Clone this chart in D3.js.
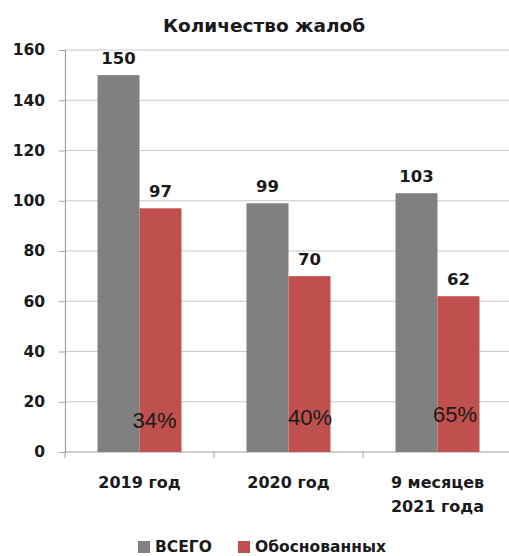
<!DOCTYPE html>
<html><head><meta charset="utf-8">
<script src="https://cdn.jsdelivr.net/npm/d3@7"></script>
<style>body{margin:0;background:#fff}svg{display:block}</style>
</head><body>
<script>
const categories = [["2019 год"], ["2020 год"], ["9 месяцев", "2021 года"]];
const seriesNames = ["ВСЕГО", "Обоснованных"];
const totalValues = [150, 99, 103];
const justifiedValues = [97, 70, 62];
const percentLabels = ["34%", "40%", "65%"];
const yTicks = [0, 20, 40, 60, 80, 100, 120, 140, 160];
const colors = ["#808080", "#c0504d"];

const W = 509, H = 556;
const svg = d3.select("body").append("svg").attr("width", W).attr("height", H);
const bold = "'DejaVu Sans', sans-serif";
const reg = "'Liberation Sans', Arial, sans-serif";

const x = d3.scaleBand().domain(d3.range(categories.length)).range([65, 512]);
const y = d3.scaleLinear().domain([0, 160]).range([452, 50]);
const barW = 42;

// gridlines
svg.append("g").selectAll("line").data(yTicks.filter(t => t > 0)).join("line")
  .attr("x1", 65).attr("x2", W).attr("y1", d => y(d)).attr("y2", d => y(d))
  .attr("stroke", "#c8c8c8").attr("stroke-width", 1.2);

// y axis
const yAxis = svg.append("g").attr("transform", "translate(65,0)")
  .call(d3.axisLeft(y).tickValues(yTicks).tickSize(6).tickPadding(5));
yAxis.select(".domain").attr("stroke", "#a0a0a0").attr("stroke-width", 1.2);
yAxis.selectAll(".tick line").attr("stroke", "#a0a0a0");
yAxis.selectAll("text").attr("font-family", bold).attr("font-size", 15.5).attr("font-weight", "bold").attr("fill", "#1a1a1a").attr("dx", -9);

// x axis
const xAxis = svg.append("g").attr("transform", "translate(0,452)");
xAxis.append("line").attr("x1", 65).attr("x2", W).attr("stroke", "#a0a0a0").attr("stroke-width", 1.2);
xAxis.selectAll(".tk").data(d3.range(categories.length + 1)).join("line")
  .attr("x1", d => 65 + d * x.step()).attr("x2", d => 65 + d * x.step())
  .attr("y1", 0).attr("y2", 6).attr("stroke", "#a0a0a0");

const cx = i => x(i) + x.bandwidth() / 2;

// bars
const data = [totalValues, justifiedValues];
data.forEach((vals, s) => {
  svg.append("g").selectAll("rect").data(vals).join("rect")
    .attr("x", (d, i) => cx(i) - barW + s * barW)
    .attr("width", barW)
    .attr("y", d => y(d)).attr("height", d => y(0) - y(d))
    .attr("fill", colors[s]);
  svg.append("g").selectAll("text").data(vals).join("text")
    .attr("x", (d, i) => cx(i) - barW / 2 + s * barW)
    .attr("y", d => y(d) - 11.5)
    .attr("text-anchor", "middle")
    .attr("font-family", bold).attr("font-size", 16.5).attr("font-weight", "bold").attr("fill", "#1a1a1a")
    .text(d => d);
});

// percent labels
const pctOffsets = [[15, 428], [21.5, 425], [17.5, 422]];
svg.append("g").selectAll("text").data(percentLabels).join("text")
  .attr("x", (d, i) => cx(i) + pctOffsets[i][0])
  .attr("y", (d, i) => pctOffsets[i][1])
  .attr("text-anchor", "middle")
  .attr("font-family", reg).attr("font-size", 22).attr("fill", "#1a1a1a")
  .text(d => d);

// category labels
categories.forEach((lines, i) => {
  lines.forEach((t, j) => {
    svg.append("text").attr("x", cx(i)).attr("y", 488 + j * 24)
      .attr("text-anchor", "middle")
      .attr("font-family", bold).attr("font-size", 16).attr("font-weight", "bold").attr("fill", "#1a1a1a")
      .text(t);
  });
});

// title
svg.append("text").attr("x", 264).attr("y", 32).attr("text-anchor", "middle")
  .attr("font-family", bold).attr("font-size", 18.5).attr("font-weight", "bold").attr("fill", "#1a1a1a")
  .text("Количество жалоб");

// legend
const legX = [138, 238];
seriesNames.forEach((n, i) => {
  svg.append("rect").attr("x", legX[i]).attr("y", 541).attr("width", 12).attr("height", 12).attr("fill", colors[i]);
  svg.append("text").attr("x", legX[i] + 17).attr("y", 552)
    .attr("font-family", bold).attr("font-size", 15.5).attr("font-weight", "bold").attr("fill", "#1a1a1a")
    .text(n);
});
</script>
</body></html>
